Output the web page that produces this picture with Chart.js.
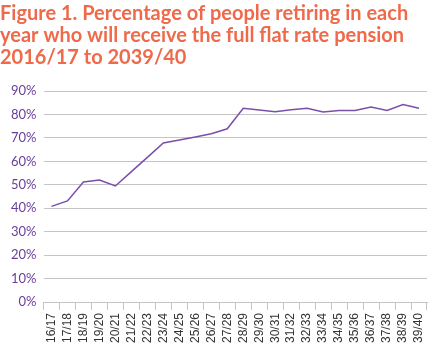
<!DOCTYPE html>
<html>
<head>
<meta charset="utf-8">
<script src="https://cdn.jsdelivr.net/npm/chart.js@4/dist/chart.umd.min.js"></script>
<style>
  html, body { margin: 0; padding: 0; background: #ffffff; }
  #wrap { position: relative; width: 437px; height: 361px; }
</style>
</head>
<body>
<div id="wrap"><canvas id="c" width="437" height="361"></canvas></div>
<script>
const titleLines = [
  "Figure 1. Percentage of people retiring in each",
  "year who will receive the full flat rate pension",
  "2016/17 to 2039/40"
];
const categories = ["16/17","17/18","18/19","19/20","20/21","21/22","22/23","23/24","24/25","25/26","26/27","27/28","28/29","29/30","30/31","31/32","32/33","33/34","34/35","35/36","36/37","37/38","38/39","39/40"];
const fullRateShare = [40.8, 43.1, 51.2, 52.0, 49.5, 55.6, 61.7, 67.8, 69.1, 70.4, 71.8, 73.9, 82.6, 81.9, 81.2, 82.0, 82.6, 81.0, 81.7, 81.7, 83.2, 81.7, 84.2, 82.6];
const yTicks = [0, 10, 20, 30, 40, 50, 60, 70, 80, 90];

new Chart(document.getElementById('c'), {
  type: 'line',
  data: {
    labels: categories,
    datasets: [{
      data: fullRateShare,
      borderColor: '#7a4fa8',
      borderWidth: 1.5,
      pointRadius: 0,
      tension: 0,
      fill: false
    }]
  },
  options: {
    responsive: false,
    animation: false,
    devicePixelRatio: 1,
    layout: { padding: { left: 0, right: 10, top: 0, bottom: 0 } },
    plugins: {
      legend: { display: false },
      tooltip: { enabled: false },
      title: {
        display: true,
        text: titleLines,
        align: 'start',
        color: '#ef6a4b',
        font: { family: 'Lato', size: 20, weight: 'bold', lineHeight: 1.1 },
        padding: { top: 3, bottom: 22 }
      }
    },
    scales: {
      x: {
        offset: true,
        grid: { offset: true, drawOnChartArea: false, drawTicks: true, tickLength: 8, color: '#c4c4c4', lineWidth: 1 },
        border: { display: true, color: '#c4c4c4' },
        ticks: {
          color: '#333333',
          font: { family: 'Liberation Sans', size: 12 },
          maxRotation: 90, minRotation: 90,
          autoSkip: false,
          padding: 3
        },
        afterFit: (s) => { s.height = 59; }
      },
      y: {
        min: 0, max: 90,
        afterBuildTicks: (s) => { s.ticks = yTicks.map(v => ({ value: v })); },
        grid: { color: '#c4c4c4', lineWidth: 1, drawTicks: false },
        border: { display: false },
        ticks: {
          color: '#6a3d9a',
          font: { family: 'Lato', size: 13 },
          padding: 7,
          callback: (v) => v + '%'
        },
        afterFit: (s) => { s.width = 43.5; }
      }
    }
  }
});
</script>
</body>
</html>
